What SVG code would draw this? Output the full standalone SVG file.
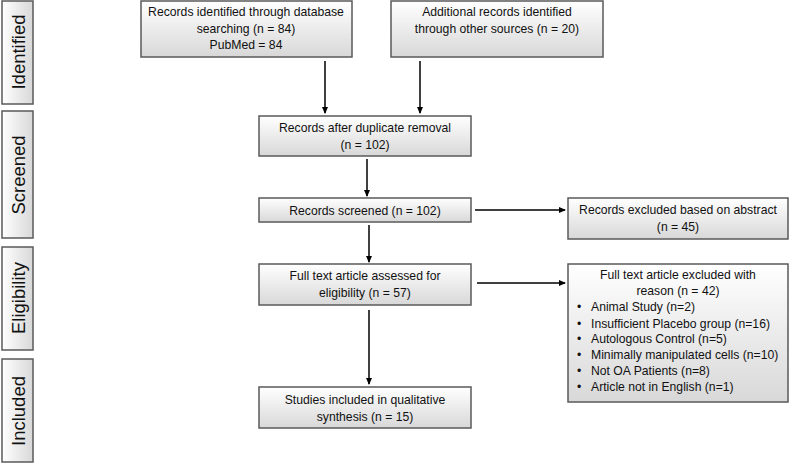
<svg xmlns="http://www.w3.org/2000/svg" width="789" height="464" viewBox="0 0 789 464">
<defs>
<linearGradient id="gv" x1="0" y1="0" x2="0" y2="1">
<stop offset="0" stop-color="#ffffff"/>
<stop offset="1" stop-color="#d8d8d8"/>
</linearGradient>
<linearGradient id="gh" x1="0" y1="0" x2="1" y2="0">
<stop offset="0" stop-color="#ffffff"/>
<stop offset="1" stop-color="#d8d8d8"/>
</linearGradient>
<marker id="ah" markerWidth="7" markerHeight="6" refX="6" refY="3" orient="auto" markerUnits="userSpaceOnUse">
<path d="M0,0 L7,3 L0,6 Z" fill="#000"/>
</marker>
</defs>
<style>
.box{fill:url(#gv);stroke:#5a5a5a;stroke-width:1.5}
.side{fill:url(#gh);stroke:#5a5a5a;stroke-width:1.5}
.t{font-family:"Liberation Sans",Arial,sans-serif;font-size:12.2px;fill:#111;text-anchor:middle}
.tl{font-family:"Liberation Sans",Arial,sans-serif;font-size:12.2px;fill:#111}
.st{font-family:"Liberation Sans",Arial,sans-serif;font-size:18.5px;fill:#111;text-anchor:middle;dominant-baseline:central}
.c{stroke:#000;stroke-width:1.5;fill:none;marker-end:url(#ah)}
</style>
<rect width="789" height="464" fill="#fff"/>

<g id="side-identified">
<rect class="side" x="2" y="1" width="31" height="103"/>
<text class="st" transform="translate(18,52) rotate(-90)">Identified</text>
</g>
<g id="side-screened">
<rect class="side" x="2" y="111" width="31" height="127"/>
<text class="st" transform="translate(18,175) rotate(-90)">Screened</text>
</g>
<g id="side-eligibility">
<rect class="side" x="2" y="247" width="31" height="103"/>
<text class="st" transform="translate(18,298) rotate(-90)">Eligibility</text>
</g>
<g id="side-included">
<rect class="side" x="2" y="359" width="31" height="103"/>
<text class="st" transform="translate(18,411) rotate(-90)">Included</text>
</g>

<g id="n-db">
<rect class="box" x="141" y="1" width="211" height="56"/>
<text class="t" x="246" y="16">Records identified through database</text>
<text class="t" x="246" y="33">searching (n = 84)</text>
<text class="t" x="246" y="49">PubMed = 84</text>
</g>
<g id="n-other">
<rect class="box" x="391" y="1" width="212" height="56"/>
<text class="t" x="497" y="16">Additional records identified</text>
<text class="t" x="497" y="33">through other sources (n = 20)</text>
</g>
<g id="n-dup">
<rect class="box" x="259" y="116" width="212" height="40"/>
<text class="t" x="365" y="132">Records after duplicate removal</text>
<text class="t" x="365" y="149">(n = 102)</text>
</g>
<g id="n-screened">
<rect class="box" x="259" y="198" width="212" height="24"/>
<text class="t" x="365" y="215">Records screened (n = 102)</text>
</g>
<g id="n-excl-abs">
<rect class="box" x="568" y="198" width="220" height="41"/>
<text class="t" x="678" y="214">Records excluded based on abstract</text>
<text class="t" x="678" y="231">(n = 45)</text>
</g>
<g id="n-fulltext">
<rect class="box" x="259" y="264" width="212" height="41"/>
<text class="t" x="365" y="280">Full text article assessed for</text>
<text class="t" x="365" y="297">eligibility (n = 57)</text>
</g>
<g id="n-excl-full">
<rect class="box" x="568" y="264" width="220" height="138"/>
<text class="t" x="678" y="279">Full text article excluded with</text>
<text class="t" x="678" y="295">reason (n = 42)</text>
<text class="tl" x="577" y="311">•</text><text class="tl" x="591" y="311">Animal Study (n=2)</text>
<text class="tl" x="577" y="328">•</text><text class="tl" x="591" y="328">Insufficient Placebo group (n=16)</text>
<text class="tl" x="577" y="343">•</text><text class="tl" x="591" y="343">Autologous Control (n=5)</text>
<text class="tl" x="577" y="359">•</text><text class="tl" x="591" y="359">Minimally manipulated cells (n=10)</text>
<text class="tl" x="577" y="375">•</text><text class="tl" x="591" y="375">Not OA Patients (n=8)</text>
<text class="tl" x="577" y="391">•</text><text class="tl" x="591" y="391">Article not in English (n=1)</text>
</g>
<g id="n-included">
<rect class="box" x="259" y="387" width="212" height="41"/>
<text class="t" x="365" y="404">Studies included in qualitative</text>
<text class="t" x="365" y="421">synthesis (n = 15)</text>
</g>

<g id="connectors">
<line class="c" x1="325" y1="61" x2="325" y2="113"/>
<line class="c" x1="420" y1="61" x2="420" y2="113"/>
<line class="c" x1="367" y1="159" x2="367" y2="196"/>
<line class="c" x1="369" y1="225" x2="369" y2="262"/>
<line class="c" x1="475" y1="210" x2="565" y2="210"/>
<line class="c" x1="477" y1="283" x2="565" y2="283"/>
<line class="c" x1="369" y1="310" x2="369" y2="384"/>
</g>
</svg>
